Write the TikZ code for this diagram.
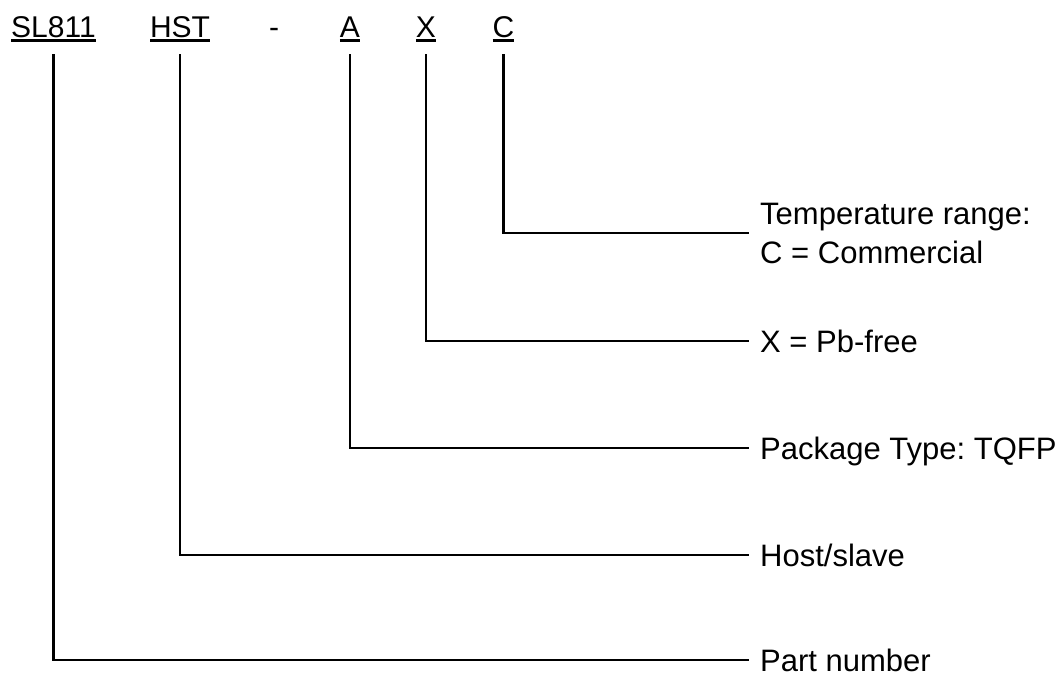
\documentclass[tikz,border=0pt]{standalone}
\usepackage{fontspec}
\setmainfont{Liberation Sans}
\usepackage{xcolor}
\definecolor{partink}{HTML}{000000}
\usepackage{tikz}
\frenchspacing
% underlined part code letters
\newcommand{\partul}[1]{\setbox0\hbox{#1}\rlap{\rule[-4.5pt]{\wd0}{2.3pt}}\box0}
\tikzset{%
  partcode/.style={anchor=base,inner sep=0pt,font=\fontsize{30}{36}\selectfont,text=partink},%
  partdesc/.style={anchor=west,inner xsep=11pt,inner ysep=0pt,font=\fontsize{31}{39}\selectfont,text=partink,align=left},%
  oneline/.style={text depth=0pt},%
  partlead/.style={draw=partink,line width=2.8pt}%
  }

\begin{document}
\begin{tikzpicture}[x=1pt,y=-1pt]
    \useasboundingbox (0,0) rectangle (1063,675);
    % part code
    \node[partcode] (sl)   at (53.5,37) {\partul{SL811}};
    \node[partcode] (hst)  at (180,37)  {\partul{HST}};
    \node[partcode] (dash) at (274,37)  {-};
    \node[partcode] (pkg)  at (350,37)  {\partul{A}};
    \node[partcode] (pb)   at (426,37)  {\partul{X}};
    \node[partcode] (tmp)  at (503.5,37) {\partul{C}};
    % descriptions
    \node[partdesc] (tmpdesc) at (749,233) {Temperature range:\\C = Commercial};
    \node[partdesc,oneline] (pbdesc)  at (749,341) {X = Pb-free};
    \node[partdesc,oneline] (pkgdesc) at (749,448) {Package Type: TQFP};
    \node[partdesc,oneline] (hstdesc) at (749,555) {Host/slave};
    \node[partdesc,oneline] (sldesc)  at (749,660) {Part number};
    % leads
    \draw[partlead] (tmp.base) ++(0,17) |- (tmpdesc.west);
    \draw[partlead] (pb.base)  ++(0,17) |- (pbdesc.west);
    \draw[partlead] (pkg.base) ++(0,17) |- (pkgdesc.west);
    \draw[partlead] (hst.base) ++(0,17) |- (hstdesc.west);
    \draw[partlead] (sl.base)  ++(0,17) |- (sldesc.west);
  %  \draw[partlead] (dash.base) ++(0,17) -- ++(0,20);
\end{tikzpicture}
\end{document}
